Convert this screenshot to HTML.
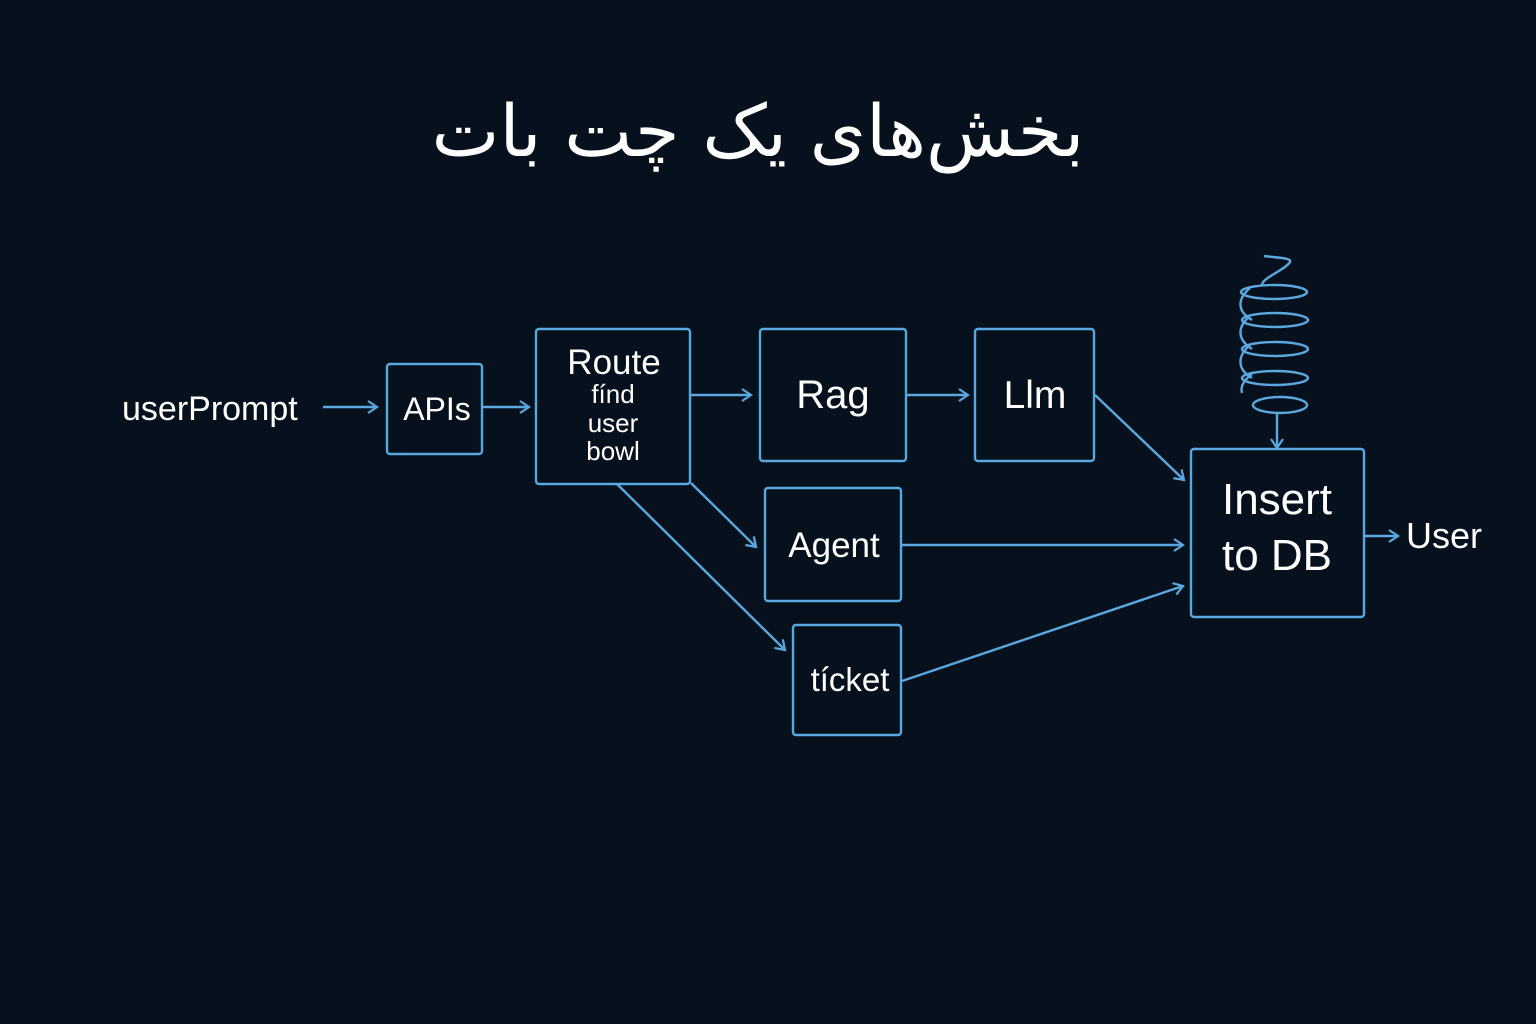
<!DOCTYPE html>
<html><head><meta charset="utf-8"><style>
html,body{margin:0;padding:0;background:#07101d;}
svg{display:block}
text{font-family:"Liberation Sans","DejaVu Sans",sans-serif;fill:#fff}
</style></head><body>
<svg width="1536" height="1024" viewBox="0 0 1536 1024" xmlns="http://www.w3.org/2000/svg">
<rect width="1536" height="1024" fill="#07101d"/>
<defs><marker id="a" markerWidth="14" markerHeight="14" refX="11" refY="7" orient="auto" markerUnits="userSpaceOnUse"><path d="M2,1 L11,7 L2,13" fill="none" stroke="#5aa8e0" stroke-width="2.2"/></marker></defs>
<text x="758" y="156" text-anchor="middle" font-size="72" style="font-family:'DejaVu Sans','Noto Sans CJK SC',sans-serif" direction="rtl">بخش‌های یک چت بات</text>
<g fill="none" stroke="#5aa8e0" stroke-width="2.4">
<rect x="387" y="364" width="95" height="90" rx="3"/>
<rect x="536" y="329" width="154" height="155" rx="3"/>
<rect x="760" y="329" width="146" height="132" rx="3"/>
<rect x="975" y="329" width="119" height="132" rx="3"/>
<rect x="765" y="488" width="136" height="113" rx="3"/>
<rect x="793" y="625" width="108" height="110" rx="3"/>
<rect x="1191" y="449" width="173" height="168" rx="3"/>
<g marker-end="url(#a)">
<line x1="323" y1="407" x2="377" y2="407"/>
<line x1="483" y1="407" x2="529" y2="407"/>
<line x1="691" y1="395" x2="751" y2="395"/>
<line x1="907" y1="395" x2="968" y2="395"/>
<line x1="1095" y1="395" x2="1184" y2="480"/>
<line x1="691" y1="483" x2="756" y2="547"/>
<line x1="617" y1="484" x2="785" y2="650"/>
<line x1="902" y1="545" x2="1183" y2="545"/>
<line x1="902" y1="681" x2="1183" y2="586"/>
<line x1="1365" y1="536" x2="1398" y2="536"/>
<line x1="1277" y1="413" x2="1277" y2="448"/>
</g>
<path d="M1264,256 C1280,258 1292,258 1290,262 C1285,270 1262,278 1262,285"/>
<ellipse cx="1274" cy="292" rx="33" ry="7"/>
<path d="M1250,288 C1236,300 1238,312 1252,320"/>
<ellipse cx="1275" cy="320" rx="33" ry="7"/>
<path d="M1250,316 C1236,328 1238,340 1252,349"/>
<ellipse cx="1275" cy="349" rx="33" ry="7"/>
<path d="M1250,345 C1236,357 1238,370 1252,378"/>
<ellipse cx="1275" cy="378" rx="33" ry="7"/>
<path d="M1252,374 C1244,380 1240,386 1242,393"/>
<ellipse cx="1280" cy="405" rx="27" ry="8"/>
</g>
<text x="122" y="420" font-size="34">userPrompt</text>
<text x="437" y="420" font-size="32" text-anchor="middle">APIs</text>
<text x="614" y="374" font-size="35" text-anchor="middle">Route</text>
<text x="613" y="403" font-size="26" text-anchor="middle">fínd</text>
<text x="613" y="432" font-size="26" text-anchor="middle">user</text>
<text x="613" y="460" font-size="26" text-anchor="middle">bowl</text>
<text x="833" y="408" font-size="40" text-anchor="middle">Rag</text>
<text x="1035" y="408" font-size="39" text-anchor="middle">Llm</text>
<text x="834" y="557" font-size="35" text-anchor="middle">Agent</text>
<text x="850" y="691" font-size="33" text-anchor="middle">tícket</text>
<text x="1277" y="514" font-size="44" text-anchor="middle">Insert</text>
<text x="1277" y="570" font-size="44" text-anchor="middle">to DB</text>
<text x="1406" y="548" font-size="36">User</text>
</svg>
</body></html>
